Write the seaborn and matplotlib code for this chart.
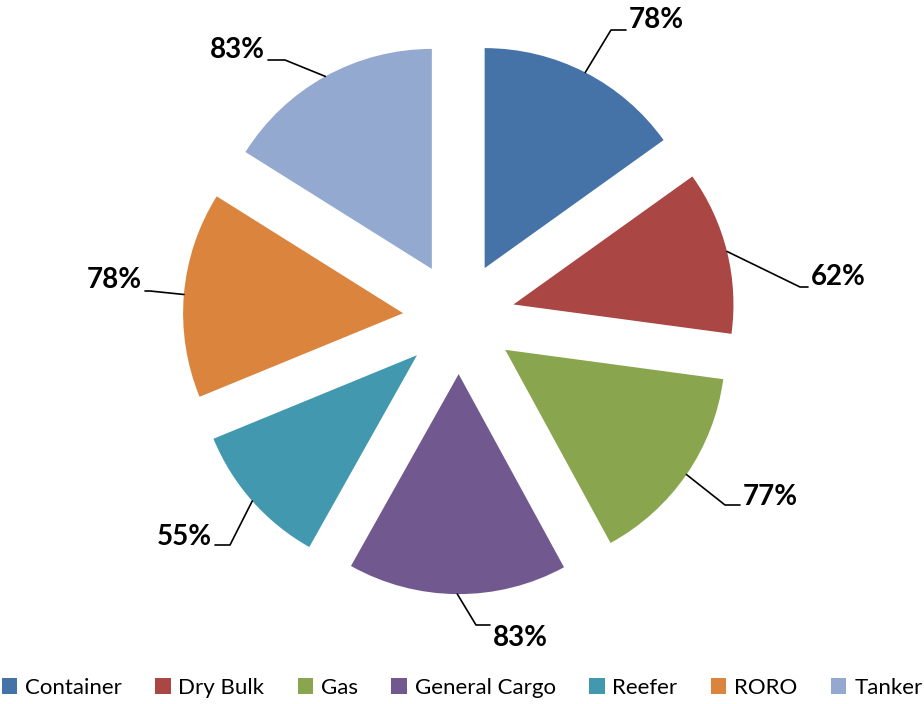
import numpy as np
import seaborn as sns
import matplotlib.pyplot as plt
from matplotlib.patches import Patch

# data
categories = ['Container', 'Dry Bulk', 'Gas', 'General Cargo', 'Reefer', 'RORO', 'Tanker']
values = [78, 62, 77, 83, 55, 78, 83]
labels = ['78%', '62%', '77%', '83%', '55%', '78%', '83%']
colors = ['#4572A7', '#AA4643', '#89A54E', '#71588F', '#4198AF', '#DB843D', '#93A9CF']

sns.set_style('white')
plt.rcParams['font.family'] = ['Lato', 'DejaVu Sans']

W, H = 924, 704
fig = plt.figure(figsize=(W / 100, H / 100), dpi=100)
ax = fig.add_axes([0, 0, 1, 1])

R = 220.0          # pie radius in px
cx, cy = 459, 318  # pie centre in px (from top)

def px(x, y):
    # pixel (from top-left) -> data units (radius = 1)
    return (x - cx) / R, (cy - y) / R

wedges, _ = ax.pie(values, colors=colors, startangle=90, counterclock=False,
                   explode=[0.255] * len(values), radius=1,
                   wedgeprops=dict(linewidth=0))

# label elbows / text anchors (pixels), Excel style leader lines
elbows = [(611, 30), (800, 287), (725, 505), (476, 625), (230, 545), (150, 291), (285, 60)]
ends = [(626, 30), (808, 287), (740, 505), (490, 625), (215, 545), (145, 291), (268, 60)]
text_y = [20, 277, 497, 638, 537, 280, 50]

for w, lab, e, t, ty in zip(wedges, labels, elbows, ends, text_y):
    mid = np.deg2rad((w.theta1 + w.theta2) / 2)
    x0 = w.center[0] + w.r * np.cos(mid)
    y0 = w.center[1] + w.r * np.sin(mid)
    ex, ey = px(*e)
    tx, ty_ = px(*t)
    ax.plot([x0, ex, tx], [y0, ey, ty_], color='black', lw=1.2)
    ha = 'left' if tx > ex else 'right'
    off = 3 / R if ha == 'left' else -3 / R
    ax.text(tx + off, px(0, ty)[1], lab, ha=ha, va='center',
            fontsize=20, fontweight='bold', color='black')

ax.set_xlim(-cx / R, (W - cx) / R)
ax.set_ylim(-(H - cy) / R, cy / R)
ax.set_aspect('auto')
ax.axis('off')

handles = [Patch(facecolor=c, edgecolor='none') for c in colors]
fig.legend(handles, categories, loc='center', bbox_to_anchor=(0.5, 1 - 688 / H),
           ncol=7, frameon=False, fontsize=16, handlelength=0.7, handleheight=0.7,
           handletextpad=0.35, columnspacing=1.5, borderaxespad=0, labelcolor='black')

plt.savefig('out.png', dpi=100)
